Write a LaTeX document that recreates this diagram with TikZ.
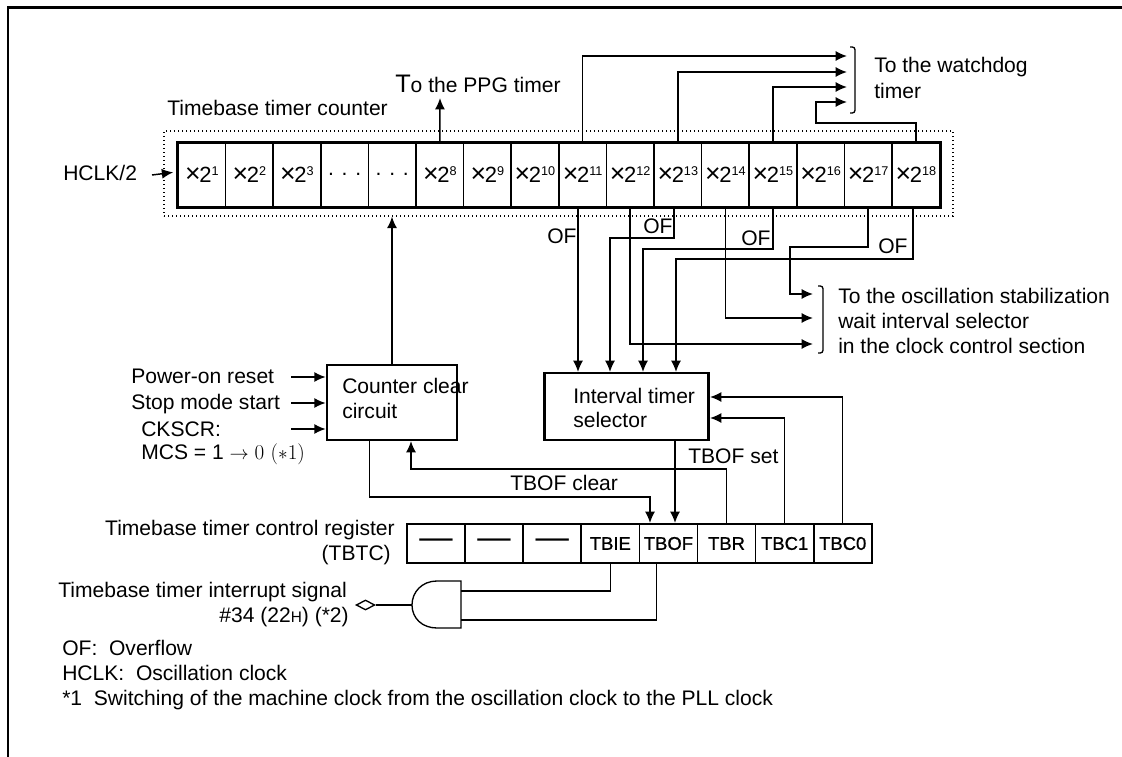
\documentclass[tikz,border=0pt]{standalone}
\usepackage{fontspec}
\usetikzlibrary{arrows.meta,shapes.geometric}
\newfontfamily\arialish{Liberation Sans}
\newfontfamily\regfont[FakeBold=1]{Liberation Sans}
\newcommand{\lblfont}{\fontsize{15.8}{19}\arialish}
\newcommand{\pow}[1]{{\fontsize{20}{19}\selectfont ×}\kern-1pt{\fontsize{16.5}{19}\selectfont 2}\raisebox{4.8pt}{\fontsize{9.5}{9}\selectfont #1}}
\newcommand{\regdash}{\raisebox{-3.5pt}{\fontsize{25}{25}\arialish\selectfont \textemdash}}
\tikzset{
    sig/.style={line width=1.1pt},
    arr/.style={sig, -{Latex[length=8.5pt,width=7.5pt]}},
    lbl/.style={font=\lblfont, inner sep=0pt, anchor=base west},
    lblr/.style={font=\lblfont, inner sep=0pt, anchor=base east},
    bigbox/.style={draw, line width=2pt, inner sep=0pt},
    cell/.style={draw, line width=1.2pt, inner sep=0pt, minimum width=35.7pt, minimum height=48pt, text height=11pt, text depth=0pt, font=\lblfont},
    regcell/.style={draw, line width=1.3pt, inner sep=0pt, minimum width=43.6pt, minimum height=29.25pt, font=\fontsize{13.8}{15}\regfont},
    brace/.style={line width=1pt, rounded corners=2pt}
}
\begin{document}
\begin{tikzpicture}[x=0.75pt,y=-0.75pt]
    \useasboundingbox (0,0) rectangle (1122,757);
    % Page frame
    \draw[line width=1.6pt] (8,757) -- (8,7.5) -- (1122,7.5);

    % Timebase timer counter
    \node[draw, dotted, line width=1pt, inner sep=0pt, minimum width=591.75pt, minimum height=63.75pt] (frame) at (558.5,173.5) {};
    \foreach \n/\e in {1/1,2/2,3/3,6/8,7/9,8/10,9/11,10/12,11/13,12/14,13/15,14/16,15/17,16/18}
        \node[cell] (xp\e) at ({178+47.6*(\n-0.5)},175) {\pow{\e}};
    \foreach \n in {4,5}
        \node[cell] (dots\n) at ({178+47.6*(\n-0.5)},175) {\raisebox{5pt}{. . .}};
    \draw[line width=2pt] (xp1.north west) rectangle (xp18.south east);
    \node[lbl] (cntlabel) at (167,115) {Timebase timer counter};
    \node[lbl] (hclk) at (63,180) {HCLK/2};
    \coordinate (clkin) at (152,175);
    \draw[arr] (clkin) -- ([xshift=-3pt,yshift=2pt]xp1.west);

    % To the PPG timer
    \node[lbl] (ppg) at (395,92) {{\fontsize{19}{19}\selectfont T}o the PPG timer};
    \coordinate (ppgtip) at (440,98);
    \draw[arr] (xp8.north) -- (ppgtip);

    % To the watchdog timer
    \coordinate (wd1) at (847,56);
    \coordinate (wd2) at (847,72);
    \coordinate (wd3) at (847,87);
    \coordinate (wd4) at (847,102);
    \draw[arr] (xp11.north) |- (wd1);
    \draw[arr] (xp13.north) |- (wd2);
    \draw[arr] (xp15.north) |- (wd3);
    \draw[arr] (xp18.north) |- (816,123) |- (wd4);
    \draw[brace] (850,47) -- (855,47) -- (855,113) -- (850,113);
    \node[lbl] (wdlabel) at (874,72) {To the watchdog};
    \node[lbl] (wdlabelb) at (874,98) {timer};

    % Interval timer selector
    \node[bigbox, minimum width=123pt, minimum height=50.25pt] (itsel) at (626.5,406.5) {};
    \node[lbl] (itlabel) at (573,403) {Interval timer};
    \node[lbl] (itlabelb) at (573,427) {selector};
    \coordinate (its1) at (578,372);
    \coordinate (its2) at (610,372);
    \coordinate (its3) at (643,372);
    \coordinate (its4) at (676,372);
    \draw[arr] (xp11.south -| its1) -- (its1);
    \draw[arr] ([xshift=-2.8pt]xp13.south) |- (610,238) -- (its2);
    \draw[arr] (xp15.south) |- (643,249) -- (its3);
    \draw[arr] ([xshift=-2.25pt]xp18.south) |- (676,259) -- (its4);
    \node[lbl] (ofa) at (547,243) {OF};
    \node[lbl] (ofb) at (643,233) {OF};
    \node[lbl] (ofc) at (741,245) {OF};
    \node[lbl] (ofd) at (878,253) {OF};

    % To the oscillation stabilization
    \coordinate (os1) at (813,294);
    \coordinate (os2) at (813,318);
    \coordinate (os3) at (813,344);
    \draw[arr] (xp17.south) |- (790,247) |- (os1);
    \draw[arr] (xp14.south) |- (os2);
    \draw[arr] (xp12.south) |- (os3);
    \draw[brace] (818,286) -- (823,286) -- (823,353) -- (818,353);
    \node[lbl] (oslabel) at (838,303) {To the oscillation stabilization};
    \node[lbl] (oslabelb) at (838,328) {wait interval selector};
    \node[lbl] (oslabelc) at (838,353) {in the clock control section};

    % Counter clear circuit
    \node[bigbox, minimum width=97.5pt, minimum height=56.25pt] (ccc) at (392,402.5) {};
    \node[lbl] (ccclabel) at (342,393) {Counter clear};
    \node[lbl] (ccclabelb) at (342,418) {circuit};
    \draw[arr] (ccc.north) -- (frame.south -| ccc.north);
    \coordinate (pon) at (291,377);
    \coordinate (stp) at (291,403);
    \coordinate (cks) at (291,429);
    \draw[arr] (pon) -- (pon -| ccc.west);
    \draw[arr] (stp) -- (stp -| ccc.west);
    \draw[arr] (cks) -- (cks -| ccc.west);
    \node[lbl] (ponlabel) at (131,383) {Power-on reset};
    \node[lbl] (stplabel) at (131,409) {Stop mode start};
    \node[lbl] (ckslabel) at (141,436) {CKSCR:};
    \node[lbl] (mcslabel) at (141,459) {MCS = 1 $\rightarrow$ {\rmfamily 0 ($\ast$1)}};

    % Control register
    \foreach \n/\name/\txt in {1/rega/\regdash,2/regb/\regdash,3/regc/\regdash,4/tbie/TBIE,5/tbof/TBOF,6/tbr/TBR,7/tbca/TBC1,8/tbcb/TBC0}
        \node[regcell] (\name) at ({407+58.1*(\n-0.5)},543.5) {\txt};
    \node[lblr] (reglabel) at (395,535) {Timebase timer control register};
    \node[lblr] (reglabelb) at (391,560) {(TBTC)};

    % Register connections
    \coordinate (clrin) at (650,523);
    \coordinate (setin) at (675,523);
    \coordinate (cccin) at (411,441);
    \coordinate (sel1) at (710,397);
    \coordinate (sel2) at (710,418);
    \draw[arr] ([xshift=-17pt]ccc.south) |- (650,497) -- (clrin);
    \draw[arr] (setin |- itsel.south) -- (setin);
    \draw[arr] (tbr.north) |- (411,469) -- (cccin);
    \draw[arr] (tbca.north) |- (sel2);
    \draw[arr] (tbcb.north) |- (sel1);
    \node[lbl] (clrlabel) at (510,490) {TBOF clear};
    \node[lbl] (setlabel) at (688,463) {TBOF set};

    % AND gate and interrupt output
    \coordinate (gateout) at (412,605);
    \coordinate (gatea) at (461,591);
    \coordinate (gateb) at (461,620);
    \draw[line width=1pt] (461,581) -- (437,581) .. controls (422,581) and (412,592) .. (412,605) .. controls (412,618) and (422,628) .. (437,628) -- (461,628) -- cycle;
    \draw[sig] (tbie.south) |- (gatea);
    \draw[sig] ([xshift=-9pt]tbof.south) |- (gateb);
    \node[diamond, draw, line width=1pt, inner sep=0pt, minimum width=14pt, minimum height=7.5pt] (intsig) at (365.5,605) {};
    \draw[sig] (gateout) -- (intsig);
    \node[lblr] (intlabel) at (347,597) {Timebase timer interrupt signal};
    \node[lblr] (intlabelb) at (349,622) {\#34 (22{\fontsize{11.5}{12}\selectfont H}) (*2)};

    % Notes
    \node[lbl] (notea) at (62,655) {OF:\ \ Overflow};
    \node[lbl] (noteb) at (62,680) {HCLK:\ \ Oscillation clock};
    \node[lbl] (notec) at (62,705) {*1\ \ Switching of the machine clock from the oscillation clock to the PLL clock};
\end{tikzpicture}
\end{document}
